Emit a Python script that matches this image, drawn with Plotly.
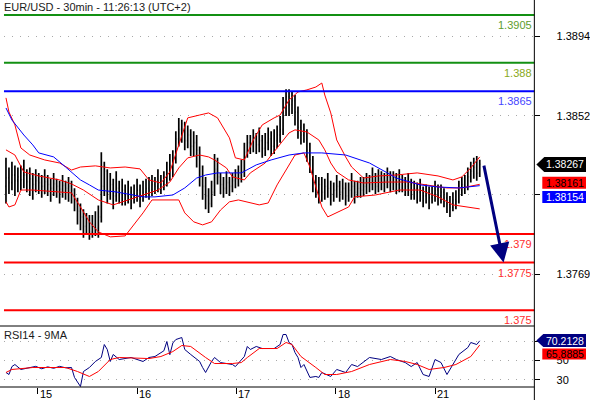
import plotly.graph_objects as go

# ---------------- layout constants (pixels) ----------------
W, H = 590, 400
PLOT_L, PLOT_R = 4, 538
MAIN_T, MAIN_B = 0, 326
RSI_T, RSI_B = 327, 387
FONT = "Liberation Sans, Arial, sans-serif"
FS = 11

def px(xp):
    return xp / W

def py(yp):
    return 1 - yp / H

# ---------------- data ----------------
title_text = "EUR/USD - 30min - 11:26:13 (UTC+2)"
rsi_title = "RSI14 - 9MA"
day_tick_pos = [10.67, 44.0, 77.33, 110.67, 144.0]
day_tick_text = ["15", "16", "17", "18", "21"]
price_ticks = [1.3769, 1.3811, 1.3852, 1.3894]
price_tick_text = ["1.3769", "", "1.3852", "1.3894"]   # 1.3811 is hidden behind the value tags
rsi_ticks = [30, 50, 70]
rsi_tick_text = ["30", "50", ""]                       # 70 is hidden behind the RSI tag
price_range = [1.374169, 1.391291]
rsi_range = [22.8, 84.4]
x_range = [-0.67, 177.33]

levels = [1.3905, 1.388, 1.3865, 1.379, 1.3775, 1.375]
level_text = ["1.3905", "1.388", "1.3865", "1.379", "1.3775", "1.375"]
level_line_colors = ["#139013", "#139013", "#0000ff", "#ff0000", "#ff0000", "#ff0000"]
level_text_colors = ["#5e9d2c", "#88a820", "#4646ff", "#ff2e2e", "#ff2e2e", "#ff2e2e"]

opens = [1.38150,1.38195,1.38170,1.38210,1.38180,
 1.38200,1.38185,1.38210,1.38175,1.38190,1.38160,1.38180,1.38170,1.38150,1.38175,1.38160,1.38140,1.38165,1.38150,1.38135,1.38155,1.38140,1.38150,
 1.38130,1.38070,1.38020,1.37990,1.37940,1.37960,1.37910,1.37950,1.37930,
 1.37990,1.38150,
 1.38230,1.38120,1.38160,1.38100,1.38140,1.38110,
 1.38130,1.38100,1.38120,1.38090,1.38110,1.38130,1.38100,
 1.38120,1.38140,1.38130,1.38160,1.38150,1.38170,1.38160,
 1.38180,1.38220,1.38260,
 1.38300,1.38400,1.38450,
 1.38480,1.38390,1.38420,1.38360,1.38380,
 1.38340,1.38200,1.38150,1.38100,1.38060,
 1.38120,1.38240,
 1.38200,1.38160,1.38140,1.38170,1.38150,1.38180,1.38190,1.38210,
 1.38230,1.38330,1.38380,1.38360,1.38400,1.38370,1.38390,1.38350,1.38380,1.38400,1.38360,1.38390,1.38420,
 1.38450,1.38560,1.38620,1.38580,1.38600,
 1.38540,1.38460,1.38420,
 1.38440,1.38340,
 1.38290,1.38170,1.38130,1.38160,1.38120,1.38150,1.38140,1.38110,1.38130,1.38150,1.38120,1.38140,1.38100,1.38130,1.38150,1.38120,1.38140,1.38130,
 1.38150,1.38170,1.38160,1.38180,1.38150,1.38190,1.38170,1.38180,1.38200,1.38170,1.38190,1.38160,1.38180,
 1.38170,1.38150,1.38160,1.38130,1.38140,1.38120,1.38130,1.38100,1.38120,
 1.38090,1.38110,1.38130,1.38100,1.38120,
 1.38090,1.38060,1.38040,1.38080,
 1.38070,1.38130,1.38160,
 1.38150,1.38200,1.38230,1.38250,1.38220]

closes = [1.38195,1.38170,1.38210,1.38180,1.38200,
 1.38185,1.38210,1.38175,1.38190,1.38160,1.38180,1.38170,1.38150,1.38175,1.38160,1.38140,1.38165,1.38150,1.38135,1.38155,1.38140,1.38150,1.38130,
 1.38070,1.38020,1.37990,1.37940,1.37960,1.37910,1.37950,1.37930,1.37990,
 1.38150,1.38230,
 1.38120,1.38160,1.38100,1.38140,1.38110,1.38130,
 1.38100,1.38120,1.38090,1.38110,1.38130,1.38100,1.38120,
 1.38140,1.38130,1.38160,1.38150,1.38170,1.38160,1.38180,
 1.38220,1.38260,1.38300,
 1.38400,1.38450,1.38480,
 1.38390,1.38420,1.38360,1.38380,1.38340,
 1.38200,1.38150,1.38100,1.38060,1.38120,
 1.38240,1.38200,
 1.38160,1.38140,1.38170,1.38150,1.38180,1.38190,1.38210,1.38230,
 1.38330,1.38380,1.38360,1.38400,1.38370,1.38390,1.38350,1.38380,1.38400,1.38360,1.38390,1.38420,1.38450,
 1.38560,1.38620,1.38580,1.38600,1.38540,
 1.38460,1.38420,1.38440,
 1.38340,1.38290,
 1.38170,1.38130,1.38160,1.38120,1.38150,1.38140,1.38110,1.38130,1.38150,1.38120,1.38140,1.38100,1.38130,1.38150,1.38120,1.38140,1.38130,1.38150,
 1.38170,1.38160,1.38180,1.38150,1.38190,1.38170,1.38180,1.38200,1.38170,1.38190,1.38160,1.38180,1.38170,
 1.38150,1.38160,1.38130,1.38140,1.38120,1.38130,1.38100,1.38120,1.38090,
 1.38110,1.38130,1.38100,1.38120,1.38090,
 1.38060,1.38040,1.38080,1.38070,
 1.38130,1.38160,1.38150,
 1.38200,1.38230,1.38250,1.38220,1.38267]

highs = [1.38300,1.38250,1.38280,1.38260,1.38250,
 1.38260,1.38290,1.38240,1.38250,1.38220,1.38240,1.38220,1.38210,1.38240,1.38210,1.38190,1.38220,1.38190,1.38180,1.38210,1.38180,1.38200,1.38180,
 1.38140,1.38090,1.38060,1.38030,1.38010,1.38000,1.38000,1.38020,1.38050,
 1.38330,1.38280,
 1.38240,1.38220,1.38190,1.38230,1.38180,1.38190,
 1.38160,1.38180,1.38150,1.38160,1.38190,1.38160,1.38180,
 1.38190,1.38200,1.38210,1.38200,1.38240,1.38210,1.38230,
 1.38280,1.38320,1.38340,
 1.38440,1.38510,1.38500,
 1.38490,1.38470,1.38450,1.38440,1.38420,
 1.38360,1.38260,1.38200,1.38140,1.38180,
 1.38320,1.38300,
 1.38220,1.38200,1.38230,1.38200,1.38220,1.38240,1.38260,1.38290,
 1.38380,1.38420,1.38420,1.38450,1.38430,1.38460,1.38420,1.38430,1.38460,1.38440,1.38450,1.38470,1.38520,
 1.38620,1.38660,1.38660,1.38650,1.38630,
 1.38570,1.38500,1.38480,
 1.38450,1.38380,
 1.38310,1.38210,1.38200,1.38200,1.38190,1.38220,1.38180,1.38170,1.38210,1.38180,1.38190,1.38170,1.38170,1.38220,1.38180,1.38180,1.38200,1.38200,
 1.38220,1.38210,1.38250,1.38220,1.38240,1.38230,1.38220,1.38250,1.38230,1.38230,1.38220,1.38240,1.38210,
 1.38200,1.38220,1.38190,1.38180,1.38170,1.38190,1.38150,1.38160,1.38150,
 1.38150,1.38180,1.38160,1.38160,1.38140,
 1.38120,1.38100,1.38120,1.38130,
 1.38180,1.38200,1.38210,
 1.38250,1.38280,1.38300,1.38310,1.38290]

lows = [1.38060,1.38110,1.38130,1.38100,1.38120,
 1.38130,1.38140,1.38120,1.38100,1.38080,1.38120,1.38110,1.38090,1.38110,1.38100,1.38070,1.38100,1.38090,1.38060,1.38090,1.38080,1.38070,1.38060,
 1.38020,1.37950,1.37920,1.37880,1.37900,1.37870,1.37880,1.37890,1.37880,
 1.37960,1.38100,
 1.38060,1.38080,1.38030,1.38070,1.38060,1.38050,
 1.38050,1.38060,1.38030,1.38060,1.38070,1.38040,1.38070,
 1.38090,1.38080,1.38100,1.38110,1.38120,1.38110,1.38130,
 1.38150,1.38180,1.38200,
 1.38270,1.38360,1.38380,
 1.38340,1.38350,1.38310,1.38310,1.38250,
 1.38150,1.38080,1.38030,1.38010,1.38040,
 1.38100,1.38160,
 1.38110,1.38090,1.38110,1.38100,1.38120,1.38140,1.38150,1.38170,
 1.38200,1.38300,1.38320,1.38330,1.38320,1.38330,1.38300,1.38310,1.38340,1.38310,1.38320,1.38350,1.38380,
 1.38420,1.38520,1.38520,1.38530,1.38470,
 1.38400,1.38370,1.38380,
 1.38280,1.38220,
 1.38120,1.38090,1.38060,1.38070,1.38080,1.38090,1.38050,1.38070,1.38090,1.38070,1.38080,1.38050,1.38070,1.38090,1.38060,1.38090,1.38090,1.38100,
 1.38110,1.38120,1.38130,1.38110,1.38120,1.38130,1.38120,1.38140,1.38120,1.38130,1.38110,1.38120,1.38120,
 1.38100,1.38100,1.38080,1.38080,1.38060,1.38070,1.38040,1.38060,1.38030,
 1.38060,1.38070,1.38050,1.38060,1.38040,
 1.38010,1.37990,1.38020,1.38030,
 1.38060,1.38100,1.38110,
 1.38130,1.38170,1.38190,1.38180,1.38200]

bars_x = list(range(len(closes)))

bb_upper_x = [0,1,3,5,8,13,18,22,25,30,35,40,45,48,52,55,58,61,65,68,71,75,77,80,83,86,90,92,95,98,101,104,106,107,109,111,114,116,120,125,131,138,145,150,153,156,159]
bb_upper = [1.38615,1.38541,1.38473,1.38352,1.38315,1.38289,1.38273,1.38236,1.38252,1.38258,1.38247,1.38252,1.38242,1.38184,1.38168,1.38226,1.38368,1.38510,1.38525,1.38536,1.38510,1.38405,1.38300,1.38289,1.38394,1.38473,1.38510,1.38525,1.38604,1.38646,1.38657,1.38672,1.38693,1.38630,1.38536,1.38394,1.38305,1.38252,1.38194,1.38205,1.38210,1.38221,1.38205,1.38184,1.38200,1.38247,1.38305]

bb_mid_x = [0,3,6,11,18,22,26,31,36,41,46,51,55,58,61,65,68,70,74,76,80,82,87,90,95,97,101,105,107,109,111,115,120,128,135,141,148,153,159]
bb_mid = [1.38342,1.38315,1.38226,1.38205,1.38184,1.38163,1.38131,1.38079,1.38053,1.38079,1.38105,1.38131,1.38173,1.38247,1.38300,1.38315,1.38305,1.38289,1.38247,1.38200,1.38184,1.38221,1.38273,1.38331,1.38431,1.38447,1.38436,1.38394,1.38342,1.38273,1.38226,1.38184,1.38168,1.38173,1.38173,1.38158,1.38142,1.38142,1.38161]

bb_lower_x = [0,1,3,5,9,16,22,25,28,31,35,40,43,46,49,55,58,60,63,66,69,72,75,78,81,85,88,91,94,97,100,102,104,106,108,111,115,117,124,132,139,145,150,159]
bb_lower = [1.38069,1.38042,1.38053,1.38131,1.38131,1.38121,1.38116,1.38042,1.37964,1.37911,1.37885,1.37890,1.37948,1.38011,1.38079,1.38079,1.38079,1.38011,1.37964,1.37948,1.37964,1.38026,1.38069,1.38079,1.38069,1.38053,1.38063,1.38158,1.38236,1.38315,1.38326,1.38252,1.38147,1.38042,1.37990,1.38011,1.38042,1.38095,1.38105,1.38131,1.38131,1.38095,1.38053,1.38032]

ma_x = [0,2,6,9,11,16,20,25,28,31,37,46,50,56,60,64,67,71,79,84,89,95,100,106,114,117,122,128,131,139,145,152,159]
ma_v = [1.38562,1.38499,1.38420,1.38368,1.38326,1.38305,1.38252,1.38184,1.38158,1.38131,1.38121,1.38095,1.38095,1.38105,1.38142,1.38194,1.38210,1.38221,1.38221,1.38263,1.38289,1.38315,1.38326,1.38326,1.38315,1.38300,1.38273,1.38221,1.38194,1.38158,1.38147,1.38142,1.38154]

rsi_x = [0,1,2,3,5,8,10,12,14,16,18,20,22,23,24,25,26,28,30,32,33,34,35,36,38,42,46,48,50,52,53,54,55,56,57,59,60,62,65,66,67,69,70,72,76,77,80,81,82,84,86,90,92,93,94,95,96,97,98,99,100,102,104,105,106,109,111,114,116,118,122,126,129,131,134,136,138,140,142,144,146,148,150,152,155,156,158,159]
rsi_v = [37.7,35.6,43.8,45.9,40.8,42.8,44.0,41.5,43.5,42.0,44.0,42.5,42.8,32.6,27.4,23.3,38.7,42.8,49.0,53.1,66.4,61.3,49.0,56.2,51.0,53.1,49.0,53.1,54.1,58.2,60.0,69.5,56.0,68.0,71.5,73.6,61.3,56.2,49.0,42.8,37.7,49.0,53.1,47.9,45.9,43.8,54.1,64.4,61.3,64.4,62.3,62.3,66.4,76.7,76.7,68.5,66.4,58.2,53.1,42.8,45.9,32.6,33.6,32.6,37.7,33.6,40.8,37.7,45.9,43.8,53.1,51.0,54.1,51.0,47.9,43.8,47.9,35.6,33.6,51.0,47.9,35.6,45.9,56.2,63.3,68.5,66.4,70.2128]

rsima_x = [0,2,9,20,24,28,31,35,38,48,52,56,59,62,67,70,76,79,81,85,91,94,96,99,104,107,111,116,122,129,134,138,142,147,151,156,159]
rsima_v = [37.7,40.8,42.8,42.8,38.7,33.6,38.7,51.0,53.1,52.0,54.1,59.2,65.4,64.4,53.1,46.9,46.9,47.9,53.1,62.3,62.3,68.5,66.4,54.1,42.8,35.6,35.6,38.7,45.9,51.0,49.0,45.9,40.8,42.8,45.9,54.1,65.8885]

last_price = 1.38267
bb_mid_last = 1.38161
ma_last = 1.38154
rsi_last = 70.2128
rsi_ma_last = 65.8885
forecast_target = 1.3775
forecast_from_x = 160.3
forecast_to_x = 167.0

# ---------------- figure ----------------
fig = go.Figure()

fig.add_trace(go.Ohlc(
    x=bars_x, open=opens, high=highs, low=lows, close=closes,
    increasing=dict(line=dict(color="black", width=1.7)),
    decreasing=dict(line=dict(color="black", width=1.7)),
    tickwidth=0.3, hoverinfo="skip", xaxis="x", yaxis="y"))

for bx, by in [(bb_upper_x, bb_upper), (bb_mid_x, bb_mid), (bb_lower_x, bb_lower)]:
    fig.add_trace(go.Scatter(x=bx, y=by, mode="lines",
                             line=dict(color="#ff0000", width=1),
                             hoverinfo="skip", xaxis="x", yaxis="y"))
fig.add_trace(go.Scatter(x=ma_x, y=ma_v, mode="lines",
                         line=dict(color="#0000ff", width=1),
                         hoverinfo="skip", xaxis="x", yaxis="y"))

fig.add_trace(go.Scatter(x=rsi_x, y=rsi_v, mode="lines",
                         line=dict(color="#000080", width=1),
                         hoverinfo="skip", xaxis="x2", yaxis="y2"))
fig.add_trace(go.Scatter(x=rsima_x, y=rsima_v, mode="lines",
                         line=dict(color="#ff0000", width=1),
                         hoverinfo="skip", xaxis="x2", yaxis="y2"))

grid_common = dict(showgrid=True, gridcolor="#a8a8a8", griddash="1px,7px", gridwidth=1,
                   zeroline=False, side="right", ticks="outside", ticklen=5,
                   tickcolor="black", tickwidth=1, ticklabelstandoff=14,
                   tickfont=dict(family=FONT, size=FS, color="black"),
                   showline=False, fixedrange=True)

fig.update_layout(
    width=W, height=H,
    margin=dict(l=0, r=0, t=0, b=0),
    paper_bgcolor="white", plot_bgcolor="white",
    showlegend=False,
    font=dict(family=FONT, size=FS, color="black"),
    xaxis=dict(domain=[px(PLOT_L), px(PLOT_R)], range=x_range, anchor="y",
               showticklabels=False, showgrid=False, zeroline=False, ticks="",
               rangeslider=dict(visible=False), fixedrange=True),
    xaxis2=dict(domain=[px(PLOT_L), px(PLOT_R)], range=x_range, anchor="y2", matches="x",
                tickvals=day_tick_pos, ticktext=[""] * len(day_tick_pos),
                ticks="outside", ticklen=6, tickcolor="black", tickwidth=1,
                showgrid=False, zeroline=False, showline=False, fixedrange=True),
    yaxis=dict(domain=[py(MAIN_B), py(MAIN_T)], range=price_range, anchor="x",
               tickvals=price_ticks, ticktext=price_tick_text,
               **grid_common),
    yaxis2=dict(domain=[py(RSI_B), py(RSI_T)], range=rsi_range, anchor="x2",
                tickvals=rsi_ticks, ticktext=rsi_tick_text,
                **grid_common),
)

shapes = []
ann = []

# horizontal levels
for lv, txt, lc, tc in zip(levels, level_text, level_line_colors, level_text_colors):
    shapes.append(dict(type="line", xref="x domain", yref="y", x0=0, x1=1, y0=lv, y1=lv,
                       line=dict(color=lc, width=2), layer="above"))
    ann.append(dict(xref="x domain", yref="y", x=1, y=lv, xanchor="right", yanchor="top",
                    yshift=-2, text=txt, showarrow=False,
                    font=dict(family=FONT, size=FS, color=tc)))

# frame lines
shapes.append(dict(type="line", xref="paper", yref="paper", x0=px(PLOT_R), x1=px(PLOT_R),
                   y0=0, y1=1, line=dict(color="black", width=1)))
for yy in (MAIN_B, RSI_B):
    shapes.append(dict(type="line", xref="paper", yref="paper", x0=0, x1=px(PLOT_R),
                       y0=py(yy), y1=py(yy), line=dict(color="black", width=1)))

# value tags on the right
ppp = (price_range[1] - price_range[0]) / (MAIN_B - MAIN_T)
rpp = (rsi_range[1] - rsi_range[0]) / (RSI_B - RSI_T)

def tag(value, yref, unit, shift_px, half_px, x_left, fill, txt_color, arrow):
    yc = value - shift_px * unit
    top = yc + half_px * unit
    bot = yc - half_px * unit
    if arrow:
        path = (f"M {px(540)},{yc} L {px(x_left)},{top} L {px(590)},{top} "
                f"L {px(590)},{bot} L {px(x_left)},{bot} Z")
    else:
        path = (f"M {px(x_left)},{top} L {px(590)},{top} L {px(590)},{bot} "
                f"L {px(x_left)},{bot} Z")
    shapes.append(dict(type="path", xref="paper", yref=yref, path=path,
                       fillcolor=fill, line=dict(width=0), layer="above"))
    ann.append(dict(xref="paper", yref=yref, x=px(589), y=yc, xanchor="right",
                    yanchor="middle", text=f"{value}", showarrow=False, borderpad=0,
                    height=int(2 * half_px) - 1,
                    font=dict(family=FONT, size=10.5, color=txt_color)))

tag(last_price, "y", ppp, 0.3, 7.5, 548, "black", "white", True)
tag(bb_mid_last, "y", ppp, -1.5, 6, 546, "#ff0000", "black", False)
tag(ma_last, "y", ppp, 11.3, 6, 546, "#0000ff", "white", False)
tag(rsi_last, "y2", rpp, -0.3, 6.5, 547, "#000080", "white", True)
tag(rsi_ma_last, "y2", rpp, 9, 5.5, 546, "#ff0000", "black", False)

# titles
ann.append(dict(xref="paper", yref="paper", x=px(2), y=py(7), xanchor="left", yanchor="middle",
                text=title_text, showarrow=False,
                font=dict(family=FONT, size=FS, color="#1a1a1a")))
ann.append(dict(xref="paper", yref="paper", x=px(2), y=py(335), xanchor="left", yanchor="middle",
                text=rsi_title, showarrow=False,
                font=dict(family=FONT, size=FS, color="#1a1a1a")))

# day labels
for pos, txt in zip(day_tick_pos, day_tick_text):
    ann.append(dict(xref="x2", yref="paper", x=pos, y=py(394), xanchor="left", yanchor="middle",
                    xshift=0, text=txt, showarrow=False,
                    font=dict(family=FONT, size=FS, color="black")))

# forecast arrow
ann.append(dict(xref="x", yref="y", x=forecast_to_x, y=forecast_target,
                axref="x", ayref="y", ax=forecast_from_x, ay=last_price,
                text="", showarrow=True, arrowhead=2, arrowsize=1.3, arrowwidth=3,
                arrowcolor="#000080", standoff=0))

fig.update_layout(shapes=shapes, annotations=ann)
fig.write_html("out.html", config={"displayModeBar": False, "staticPlot": True},
               post_script="document.body.style.margin='0px';document.body.style.overflow='hidden';")
